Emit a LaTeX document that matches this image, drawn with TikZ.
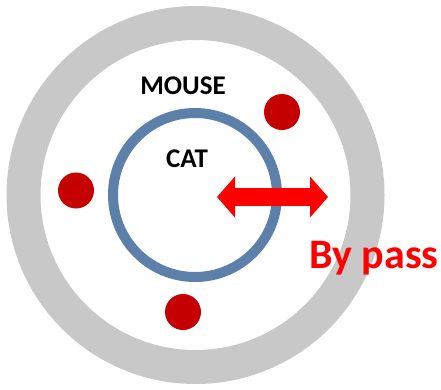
\documentclass[tikz,border=0pt]{standalone}
\usepackage{fontspec}
\setmainfont{Carlito}
\usetikzlibrary{arrows.meta}
\definecolor{ringgray}{RGB}{200,200,200}
\definecolor{catblue}{RGB}{92,128,170}
\definecolor{dotred}{RGB}{196,0,0}
\definecolor{arrred}{RGB}{255,0,0}
\tikzset{
  ring/.style={circle, draw=ringgray, line width=34pt, minimum size=344pt, inner sep=0pt},
  catring/.style={circle, draw=catblue, line width=10pt, minimum size=164pt, inner sep=0pt},
  mouse/.style={circle, fill=dotred, minimum size=36pt, inner sep=0pt},
  lbl/.style={font=\bfseries\fontsize{27}{30}\selectfont, text=black, inner sep=0pt},
  redlbl/.style={font=\bfseries\fontsize{42}{46}\selectfont, text=arrred, inner sep=0pt},
  bigarrow/.style={draw=arrred, line width=18pt,
    {Triangle[width=40pt,length=18pt]}-{Triangle[width=40pt,length=18pt]}}
}
\begin{document}
\begin{tikzpicture}[x=1pt,y=-1pt]
\useasboundingbox (0,0) rectangle (441,389);
\node[ring] (outer) at (195.5,195) {};
\node[catring] (cat) at (195,195) {};
\node[mouse] (m1) at (282,112) {};
\node[mouse] (m2) at (76,190.5) {};
\node[mouse] (m3) at (183,312) {};
\node[lbl] (mouselbl) at (183,86) {MOUSE};
\node[lbl] (catlbl) at (187,159) {CAT};
\coordinate (aL) at (217,197);
\coordinate (aR) at (328,197);
\draw[bigarrow] (aL) -- (aR);
\node[redlbl, anchor=base] (bypass) at (374,268) {By pass};
\end{tikzpicture}
\end{document}
